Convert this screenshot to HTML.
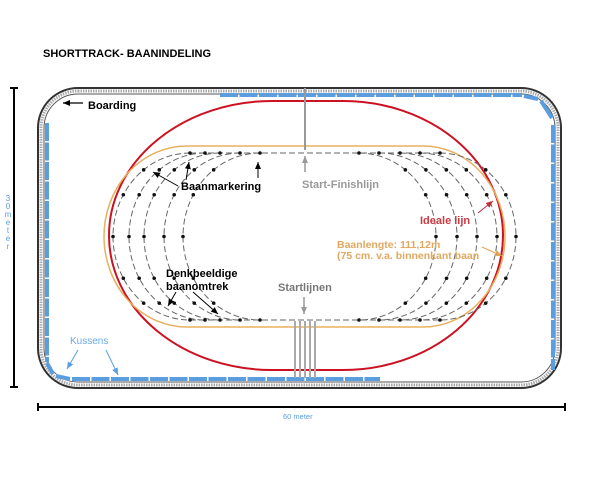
<!DOCTYPE html>
<html><head><meta charset="utf-8"><style>
body{margin:0;background:#fff;}
svg{display:block;font-family:"Liberation Sans",Arial,sans-serif;}
</style></head><body>
<svg id="s" width="600" height="500" viewBox="0 0 600 500" xmlns="http://www.w3.org/2000/svg">
<defs>
<marker id="ab" markerWidth="8" markerHeight="8" refX="7" refY="4" orient="auto" markerUnits="userSpaceOnUse"><path d="M0,1 L7,4 L0,7 Z" fill="#000"/></marker>
<marker id="ag" markerWidth="8" markerHeight="8" refX="7" refY="4" orient="auto" markerUnits="userSpaceOnUse"><path d="M0,1 L7,4 L0,7 Z" fill="#999"/></marker>
<marker id="ar" markerWidth="8" markerHeight="8" refX="7" refY="4" orient="auto" markerUnits="userSpaceOnUse"><path d="M0,1 L7,4 L0,7 Z" fill="#c0303a"/></marker>
<marker id="ao" markerWidth="8" markerHeight="8" refX="7" refY="4" orient="auto" markerUnits="userSpaceOnUse"><path d="M0,1 L7,4 L0,7 Z" fill="#e0a050"/></marker>
<marker id="abl" markerWidth="8" markerHeight="8" refX="7" refY="4" orient="auto" markerUnits="userSpaceOnUse"><path d="M0,1 L7,4 L0,7 Z" fill="#5a9ee0"/></marker>
</defs>
<text x="43" y="57" font-size="11" font-weight="bold">SHORTTRACK- BAANINDELING</text>
<!-- boarding -->
<rect x="38" y="88" width="523" height="300" rx="40" fill="none" stroke="#333" stroke-width="2"/>
<rect x="41" y="91" width="517" height="294" rx="37" fill="none" stroke="#aaa" stroke-width="3" stroke-dasharray="1.5 1"/>
<rect x="44" y="94" width="511" height="288" rx="34" fill="none" stroke="#555" stroke-width="1"/>
<!-- pads -->
<g stroke="#5a9ee0" stroke-width="4" stroke-dasharray="18 1.5">
<line x1="47" y1="123" x2="47" y2="362"/>
<line x1="553" y1="125" x2="553" y2="370"/>
<line x1="220" y1="95" x2="522" y2="95"/>
<line x1="72" y1="379" x2="380" y2="379"/>
</g>
<path d="M47,363 L53,374 M56,376 L70,379" fill="none" stroke="#5a9ee0" stroke-width="4"/>
<path d="M524,96 L538,99 M541,101 L552,118" fill="none" stroke="#5a9ee0" stroke-width="4"/>
<!-- red ideal line -->
<path d="M272,101 L343,101 A160,134.5 0 0 1 343,370 L272,370 A163,134.5 0 0 1 272,101 Z" fill="none" stroke="#cc1122" stroke-width="2"/>
<!-- orange track -->
<path d="M187,146 L423,146 A82,90.5 0 0 1 423,327 L187,327 A83,90.5 0 0 1 187,146 Z" fill="none" stroke="#e8b060" stroke-width="1.5"/>
<g id="lanes" fill="none" stroke="#666" stroke-width="1" stroke-dasharray="6 3"></g>
<g id="dots" fill="#111"></g>
<!-- start finish -->
<line x1="305" y1="88" x2="305" y2="150" stroke="#999" stroke-width="2"/>
<line x1="305" y1="172" x2="305" y2="156" stroke="#999" stroke-width="1.5" marker-end="url(#ag)"/>
<g stroke="#aaa" stroke-width="2">
<line x1="295" y1="321" x2="295" y2="378"/><line x1="300" y1="321" x2="300" y2="378"/><line x1="305" y1="321" x2="305" y2="378"/><line x1="310" y1="321" x2="310" y2="378"/><line x1="315" y1="321" x2="315" y2="378"/>
</g>
<line x1="304" y1="297" x2="304" y2="314" stroke="#999" stroke-width="1.5" marker-end="url(#ag)"/>
<!-- labels -->
<line x1="83" y1="103" x2="63" y2="103" stroke="#000" stroke-width="1.3" marker-end="url(#ab)"/>
<text x="88" y="109" font-size="11" font-weight="bold">Boarding</text>
<text x="181" y="190" font-size="11" font-weight="bold">Baanmarkering</text>
<line x1="178" y1="186" x2="153" y2="172" stroke="#000" stroke-width="1" marker-end="url(#ab)"/>
<line x1="186" y1="180" x2="189" y2="162" stroke="#000" stroke-width="1" marker-end="url(#ab)"/>
<line x1="258" y1="178" x2="258" y2="162" stroke="#000" stroke-width="1" marker-end="url(#ab)"/>
<text x="302" y="188" font-size="11" font-weight="bold" fill="#999">Start-Finishlijn</text>
<text x="420" y="224" font-size="11" font-weight="bold" fill="#c83a44">Ideale lijn</text>
<line x1="478" y1="213" x2="493" y2="201" stroke="#c0303a" stroke-width="1" marker-end="url(#ar)"/>
<text x="337" y="248" font-size="10.5" font-weight="bold" fill="#e0a860">Baanlengte: 111,12m</text>
<text x="337" y="259" font-size="10.5" font-weight="bold" fill="#e0a860">(75 cm. v.a. binnenkant baan</text>
<line x1="482" y1="247" x2="502" y2="256" stroke="#e0a050" stroke-width="1" marker-end="url(#ao)"/>
<text x="166" y="277" font-size="11" font-weight="bold">Denkbeeldige</text>
<text x="166" y="290" font-size="11" font-weight="bold">baanomtrek</text>
<line x1="176" y1="292" x2="168" y2="306" stroke="#000" stroke-width="1" marker-end="url(#ab)"/>
<line x1="193" y1="292" x2="218" y2="314" stroke="#000" stroke-width="1" marker-end="url(#ab)"/>
<text x="278" y="291" font-size="11" font-weight="bold" fill="#777">Startlijnen</text>
<text x="70" y="344" font-size="10" fill="#6aaae8">Kussens</text>
<line x1="78" y1="350" x2="67" y2="369" stroke="#5a9ee0" stroke-width="1" marker-end="url(#abl)"/>
<line x1="106" y1="350" x2="118" y2="375" stroke="#5a9ee0" stroke-width="1" marker-end="url(#abl)"/>
<!-- dims -->
<line x1="14" y1="88" x2="14" y2="387" stroke="#000" stroke-width="2"/>
<line x1="10" y1="88" x2="18" y2="88" stroke="#000" stroke-width="2"/>
<line x1="10" y1="387" x2="18" y2="387" stroke="#000" stroke-width="2"/>
<g font-size="8" fill="#5a9ee0" text-anchor="middle">
<text x="8" y="201">3</text><text x="8" y="209">0</text><text x="8" y="217">m</text><text x="8" y="225">e</text><text x="8" y="233">t</text><text x="8" y="241">e</text><text x="8" y="249">r</text>
</g>
<line x1="38" y1="407" x2="565" y2="407" stroke="#000" stroke-width="2"/>
<line x1="38" y1="403" x2="38" y2="411" stroke="#000" stroke-width="2"/>
<line x1="565" y1="403" x2="565" y2="411" stroke="#000" stroke-width="2"/>
<text x="283" y="419" font-size="7.5" fill="#5a9ee0">60 meter</text>
<script>
var ns="http://www.w3.org/2000/svg",L=document.getElementById("lanes"),D=document.getElementById("dots");
function el(p,t,a){var e=document.createElementNS(ns,t);for(var k in a)e.setAttribute(k,a[k]);p.appendChild(e);}
el(L,"line",{x1:190,y1:153,x2:440,y2:153});el(L,"line",{x1:190,y1:320,x2:440,y2:320});
var cy=236.5,ry=83.5;
var left=[[190,113],[205,129],[220,144],[240,164],[260,183]];
var right=[[440,516],[420,497],[400,477],[379,457],[359,436]];
function lane(xs,ex,dir){var rx=Math.abs(xs-ex);
el(L,"path",{d:"M"+xs+","+(cy-ry)+" A"+rx+","+ry+" 0 0 "+(dir<0?0:1)+" "+xs+","+(cy+ry)});
[0,37,60,90,120,143,180].forEach(function(a){var t=a*Math.PI/180;el(D,"circle",{cx:xs+dir*rx*Math.sin(t),cy:cy-ry*Math.cos(t),r:1.8});});}
left.forEach(function(p){lane(p[0],p[1],-1);});
right.forEach(function(p){lane(p[0],p[1],1);});
</script>
</svg>
</body></html>
